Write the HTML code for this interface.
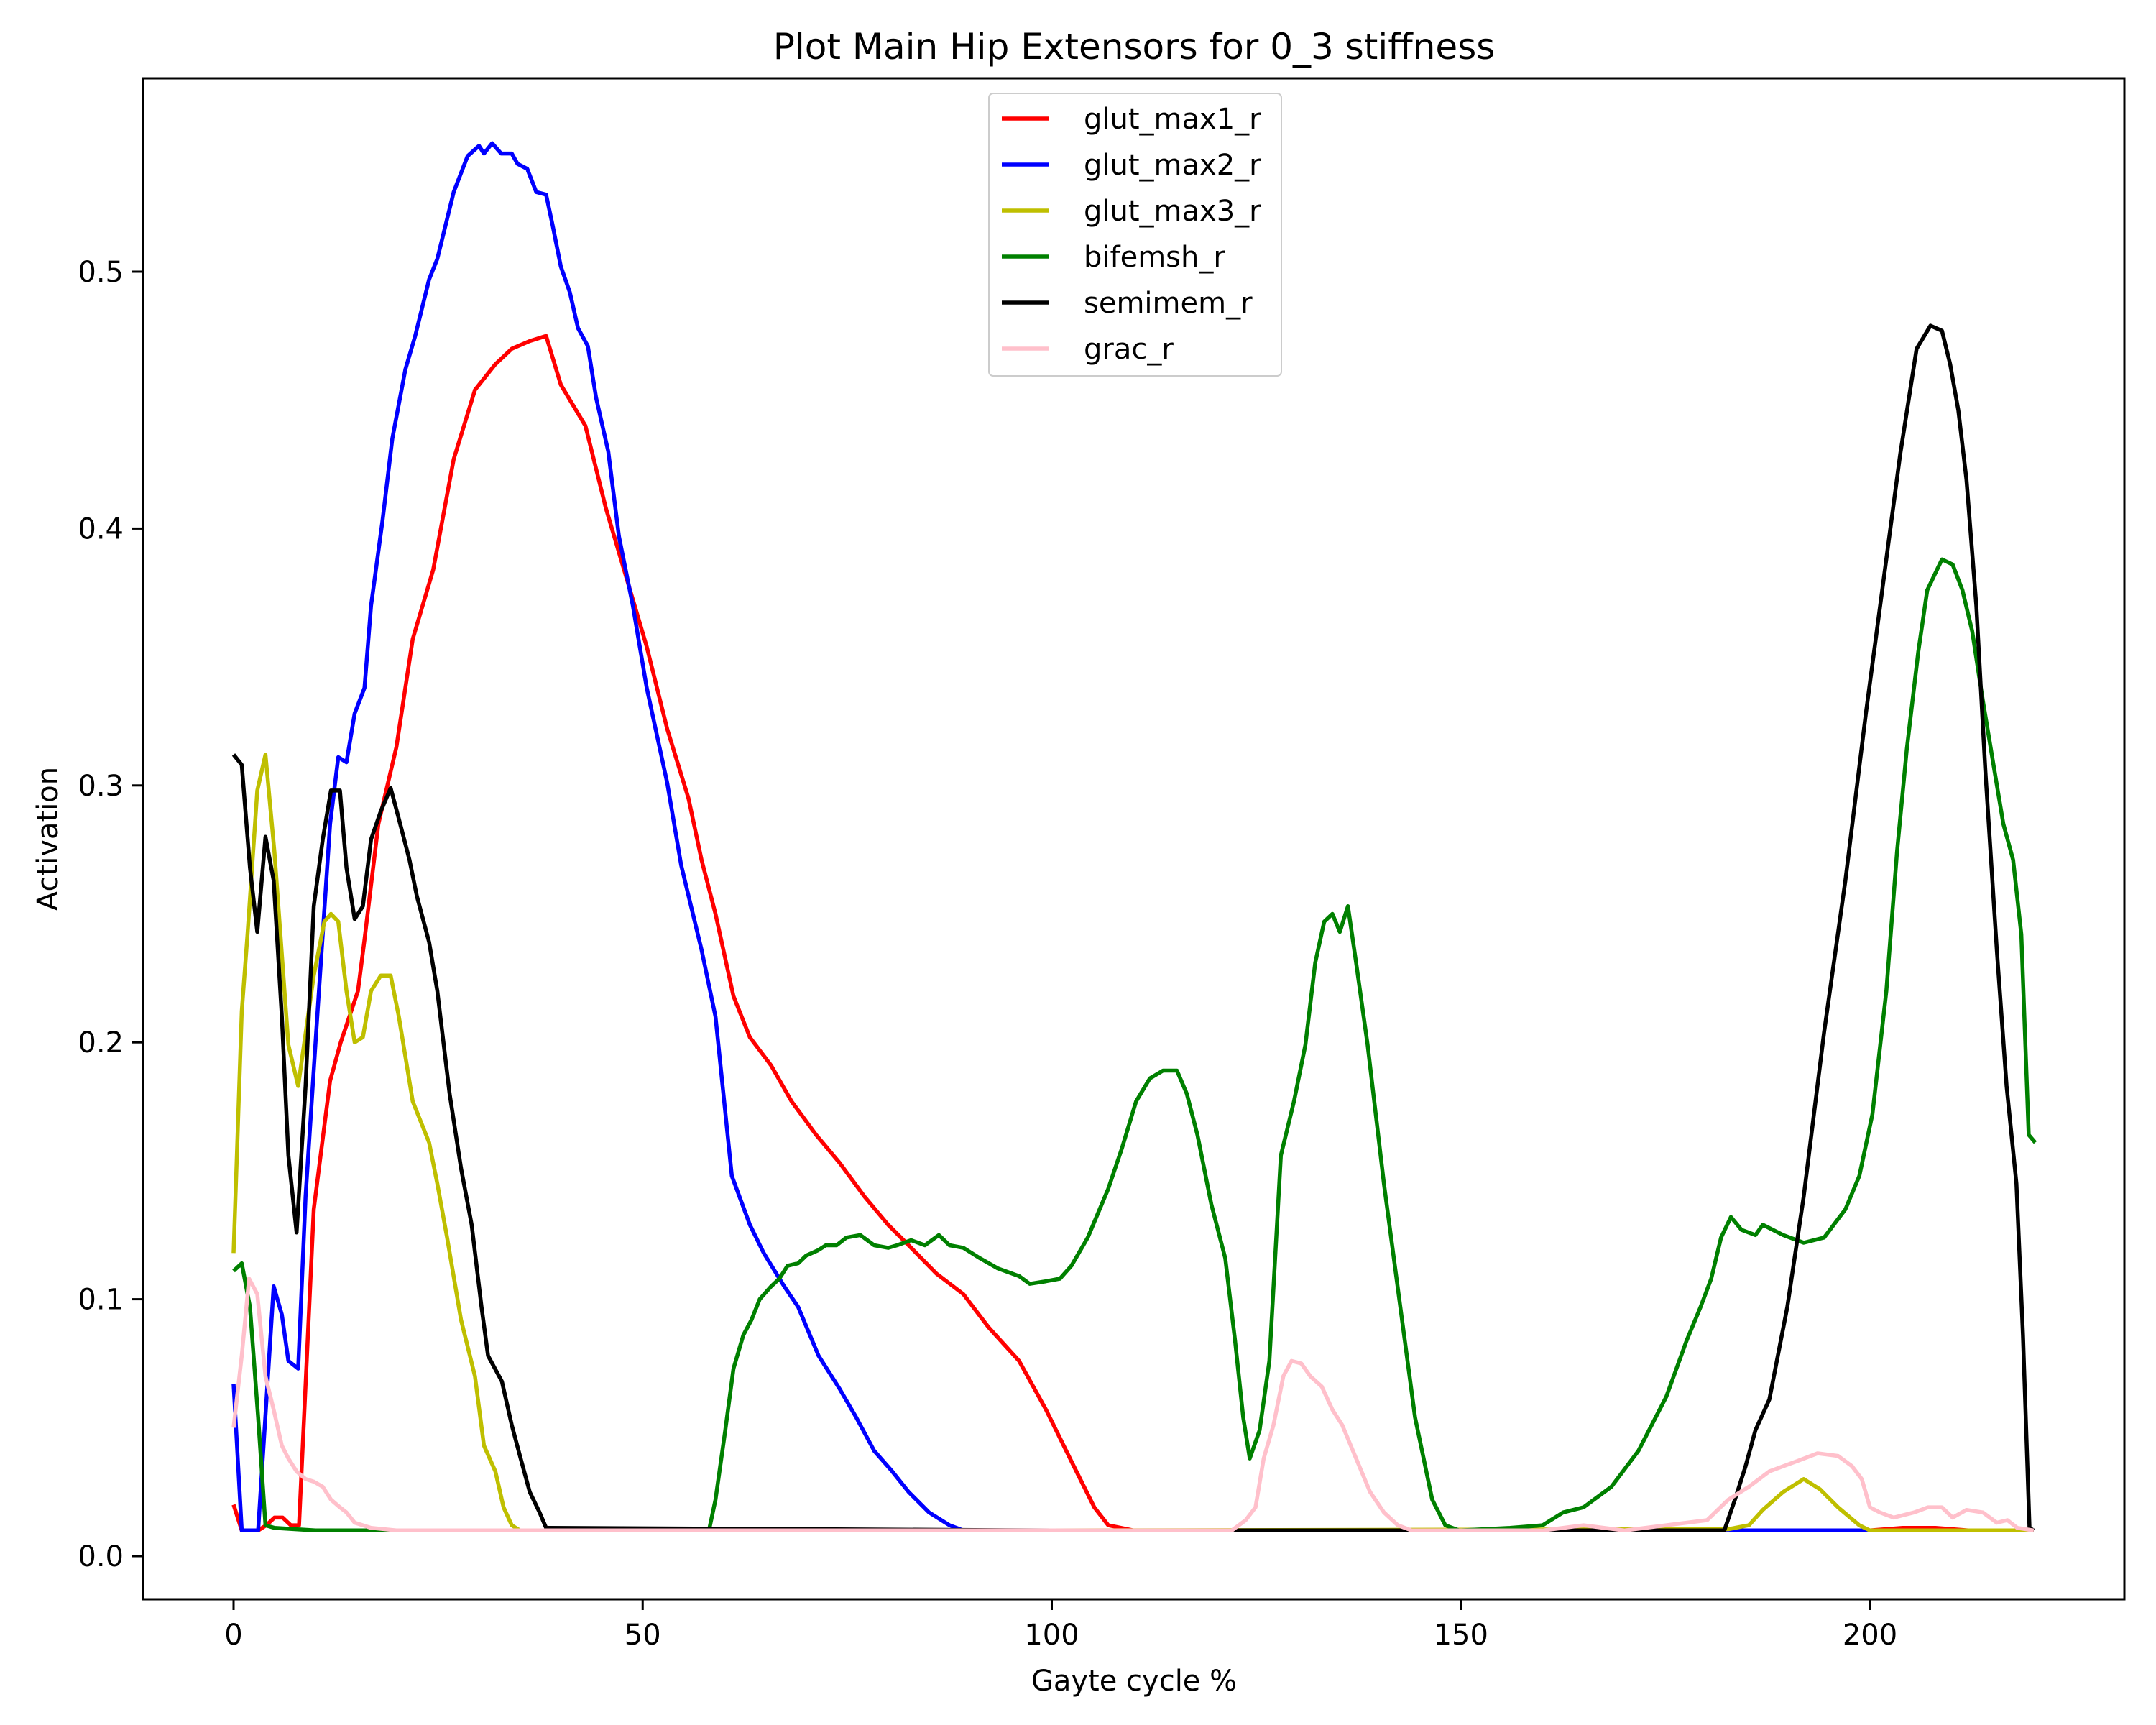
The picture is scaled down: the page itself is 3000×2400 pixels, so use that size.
<!DOCTYPE html>
<html><head><meta charset="utf-8"><style>
html,body{margin:0;padding:0;background:#fff;}
svg{display:block;font-family:"DejaVu Sans","Liberation Sans",sans-serif;}
</style></head><body>
<svg id="chart" width="3000" height="2400" viewBox="0 0 3000 2400" xmlns="http://www.w3.org/2000/svg">
<rect width="3000" height="2400" fill="#fff"/>
<text x="1578" y="82" font-size="50" text-anchor="middle">Plot Main Hip Extensors for 0_3 stiffness</text>
<g id="plot"></g>
<rect x="199.5" y="109" width="2756.5" height="2116" fill="none" stroke="#000" stroke-width="3"/>
<text x="1578" y="2352" font-size="40" text-anchor="middle">Gayte cycle %</text>
<text x="80" y="1167" font-size="40" text-anchor="middle" transform="rotate(-90 80 1167)">Activation</text>
<g id="legend"></g>
</svg>
<script>
const xTicks=[0,50,100,150,200];
const yTicks=[0.0,0.1,0.2,0.3,0.4,0.5];
const yTickLabels=["0.0","0.1","0.2","0.3","0.4","0.5"];
const seriesNames=["glut_max1_r","glut_max2_r","glut_max3_r","bifemsh_r","semimem_r","grac_r"];
const seriesColors=["#ff0000","#0000ff","#bfbf00","#008000","#000000","#ffc0cb"];
const redX=[0,1,3,4,5,6,7,8,9.8,11.8,13.1,15.2,16,17.7,19.9,21.9,24.4,26.9,29.5,32,34,36.2,38.2,40,43,45.5,48,50.5,53,55.6,57.2,58.9,61.1,63.1,65.7,68.2,71.2,74.1,77.1,80,82.5,85.9,89.2,92.3,96,99.3,102.7,105.2,106.9,110,150,200,204,208,212,216,220];
const redY=[0.02,0.01,0.01,0.012,0.015,0.015,0.012,0.012,0.135,0.185,0.2,0.22,0.24,0.285,0.315,0.357,0.384,0.427,0.454,0.464,0.47,0.473,0.475,0.456,0.44,0.408,0.381,0.354,0.322,0.295,0.271,0.25,0.218,0.202,0.191,0.177,0.164,0.153,0.14,0.129,0.121,0.11,0.102,0.089,0.076,0.057,0.035,0.019,0.012,0.01,0.01,0.01,0.011,0.011,0.01,0.01,0.01];
const blueX=[0,1,3,4.9,5.9,6.7,7.9,8.8,10.1,11.8,12.8,13.8,14.8,16,16.8,18.2,19.4,21,22.2,23.9,24.9,26.9,28.6,30,30.6,31.6,32.7,34,34.7,35.9,37,38.2,39,40,41.1,42.1,43.3,44.3,45.8,47.1,48.8,50.5,53,54.7,57.2,58.9,60.9,63.1,64.8,67.3,69,71.5,74.1,76.1,78.3,80.5,82.5,85,87.5,89.2,150,220];
const blueY=[0.067,0.01,0.01,0.105,0.094,0.076,0.073,0.14,0.204,0.285,0.311,0.309,0.328,0.338,0.37,0.403,0.435,0.462,0.475,0.497,0.505,0.531,0.545,0.549,0.546,0.55,0.546,0.546,0.542,0.54,0.531,0.53,0.518,0.502,0.492,0.478,0.471,0.451,0.43,0.397,0.37,0.338,0.301,0.269,0.236,0.21,0.148,0.129,0.118,0.105,0.097,0.078,0.065,0.054,0.041,0.033,0.025,0.017,0.012,0.01,0.01,0.01];
const yelX=[0,1,1.7,2.9,3.9,5,6.7,7.9,9.8,11.1,11.9,12.8,13.8,14.8,15.8,16.8,18,19.2,20.2,21.9,23.9,24.9,26.1,27.8,29.5,30.6,32,33,34,35,100,182.7,185.2,186.9,189.4,191.9,193.9,196.1,198.7,200,220];
const yelY=[0.118,0.212,0.242,0.298,0.312,0.274,0.199,0.183,0.226,0.247,0.25,0.247,0.22,0.2,0.202,0.22,0.226,0.226,0.21,0.177,0.161,0.145,0.124,0.092,0.07,0.043,0.033,0.019,0.012,0.01,0.01,0.0105,0.012,0.018,0.025,0.03,0.026,0.019,0.012,0.01,0.01];
const grnX=[0,1,2,3,3.9,5,10,58.1,58.9,60.1,61.1,62.3,63.3,64.3,65.7,66.7,67.7,69,70,71.4,72.4,73.7,74.9,76.6,78.3,80,81.1,82.8,84.5,86.2,87.5,89.2,91.2,93.4,96,97.3,99.3,101,102.4,104.4,106.9,108.6,110.3,112,113.6,115.3,116.5,117.8,119.5,121.2,122.4,123.4,124.2,125.4,126.6,128,129.6,131,132.2,133.3,134.3,135.2,136.2,137.2,138.6,140.6,142.6,144.4,146.5,148.1,149.8,156,160,162.5,165,168.4,171.7,175.1,177.6,179.3,180.6,181.8,183,184.3,186,186.9,189.4,191.9,194.4,197,198.7,200.3,202,203.3,204.5,205.9,207,207.9,208.8,210.1,211.3,212.5,213.8,215.2,216.3,217.5,218.5,219.4,220.2];
const grnY=[0.111,0.114,0.097,0.054,0.012,0.011,0.01,0.01,0.022,0.049,0.073,0.086,0.092,0.1,0.105,0.108,0.113,0.114,0.117,0.119,0.121,0.121,0.124,0.125,0.121,0.12,0.121,0.123,0.121,0.125,0.121,0.12,0.116,0.112,0.109,0.106,0.107,0.108,0.113,0.124,0.143,0.159,0.177,0.186,0.189,0.189,0.18,0.164,0.137,0.116,0.084,0.054,0.038,0.049,0.076,0.156,0.177,0.199,0.231,0.247,0.25,0.243,0.253,0.231,0.199,0.145,0.097,0.054,0.022,0.012,0.01,0.011,0.012,0.017,0.019,0.027,0.041,0.062,0.084,0.097,0.108,0.124,0.132,0.127,0.125,0.129,0.125,0.122,0.124,0.135,0.148,0.172,0.22,0.274,0.314,0.352,0.376,0.382,0.388,0.386,0.376,0.36,0.333,0.306,0.285,0.271,0.242,0.164,0.161];
const blkX=[0,1,2,2.9,3.9,4.9,5.9,6.7,7.7,8.8,9.8,10.9,11.9,13,13.8,14.8,15.8,16.8,18,19.2,20.2,21.5,22.4,23.9,24.9,26.4,27.8,29.1,30.3,31.1,32.8,34,35,36.2,37.4,38.2,100,182.2,183.5,184.8,186,187.7,189.9,191.9,194.4,197,199.5,201.7,203.7,205.7,207.4,208.8,209.8,210.8,211.8,213,214.1,215.5,216.7,217.9,218.7,219.5,220];
const blkY=[0.312,0.308,0.268,0.243,0.28,0.263,0.21,0.156,0.126,0.183,0.253,0.279,0.298,0.298,0.268,0.248,0.253,0.279,0.29,0.299,0.287,0.271,0.257,0.239,0.22,0.18,0.151,0.129,0.097,0.078,0.068,0.051,0.039,0.025,0.017,0.011,0.01,0.01,0.022,0.035,0.049,0.061,0.097,0.14,0.204,0.263,0.328,0.381,0.429,0.47,0.479,0.477,0.464,0.446,0.419,0.37,0.306,0.236,0.183,0.145,0.086,0.011,0.01];
const pnkX=[0,1,1.9,2.9,3.9,4.9,5.9,6.7,7.7,8.8,9.8,10.9,11.9,13,13.8,14.8,16.8,20,122,123.7,124.9,125.9,127.1,128.3,129.3,130.5,131.6,133,134.3,135.5,137.2,138.9,140.6,142.3,144,160,165,170,180.1,182.7,185.2,187.7,189.4,191.1,193.6,196.1,197.8,199,200,201.2,202.9,205.4,207.1,208.8,210.1,211.8,213.8,215.5,216.8,218,220];
const pnkY=[0.05,0.078,0.108,0.102,0.07,0.057,0.043,0.038,0.033,0.03,0.029,0.027,0.022,0.019,0.017,0.013,0.011,0.01,0.01,0.014,0.019,0.038,0.051,0.07,0.076,0.075,0.07,0.066,0.057,0.051,0.038,0.025,0.017,0.012,0.01,0.01,0.012,0.01,0.014,0.022,0.027,0.033,0.035,0.037,0.04,0.039,0.035,0.03,0.019,0.017,0.015,0.017,0.019,0.019,0.015,0.018,0.017,0.013,0.014,0.011,0.01];
const seriesX=[redX,blueX,yelX,grnX,blkX,pnkX];
const seriesY=[redY,blueY,yelY,grnY,blkY,pnkY];

const NS="http://www.w3.org/2000/svg";
function sx(v){return 325+v*11.385;}
function sy(v){return 2165-v*3574;}
const plot=document.getElementById('plot');
xTicks.forEach(t=>{
  const l=document.createElementNS(NS,'line');
  l.setAttribute('x1',sx(t));l.setAttribute('x2',sx(t));l.setAttribute('y1',2225);l.setAttribute('y2',2240);
  l.setAttribute('stroke','#000');l.setAttribute('stroke-width','3');
  
  
  plot.appendChild(l);
  const tx=document.createElementNS(NS,'text');
  tx.setAttribute('x',sx(t));tx.setAttribute('y',2288);tx.setAttribute('font-size','40');tx.setAttribute('text-anchor','middle');
  tx.textContent=String(t);
  
  
  plot.appendChild(tx);
});
yTicks.forEach((t,i)=>{
  const l=document.createElementNS(NS,'line');
  l.setAttribute('x1',184);l.setAttribute('x2',199.5);l.setAttribute('y1',sy(t));l.setAttribute('y2',sy(t));
  l.setAttribute('stroke','#000');l.setAttribute('stroke-width','3');
  
  
  plot.appendChild(l);
  const tx=document.createElementNS(NS,'text');
  tx.setAttribute('x',172);tx.setAttribute('y',sy(t)+14);tx.setAttribute('font-size','40');tx.setAttribute('text-anchor','end');
  tx.textContent=yTickLabels[i];
  
  
  plot.appendChild(tx);
});
seriesNames.forEach((n,i)=>{
  const p=document.createElementNS(NS,'polyline');
  p.setAttribute('points',seriesX[i].map((x,j)=>sx(x).toFixed(1)+','+sy(seriesY[i][j]).toFixed(1)).join(' '));
  p.setAttribute('fill','none');p.setAttribute('stroke',seriesColors[i]);p.setAttribute('stroke-width','5.5');p.setAttribute('stroke-linejoin','round');
  
  
  plot.appendChild(p);
});
const lg=document.getElementById('legend');
const box=document.createElementNS(NS,'rect');
box.setAttribute('x',1376);box.setAttribute('y',130);box.setAttribute('width',407);box.setAttribute('height',393);box.setAttribute('rx',6);
box.setAttribute('fill','#fff');box.setAttribute('fill-opacity','0.8');box.setAttribute('stroke','#ccc');box.setAttribute('stroke-width','2');


lg.appendChild(box);
seriesNames.forEach((n,i)=>{
  const y=165+i*64;
  const l=document.createElementNS(NS,'line');
  l.setAttribute('x1',1394);l.setAttribute('x2',1459);l.setAttribute('y1',y);l.setAttribute('y2',y);
  l.setAttribute('stroke',seriesColors[i]);l.setAttribute('stroke-width','5.5');
  
  
  lg.appendChild(l);
  const t=document.createElementNS(NS,'text');
  t.setAttribute('x',1508);t.setAttribute('y',y+14);t.setAttribute('font-size','40');
  t.textContent=n;
  
  
  lg.appendChild(t);
});
</script>
</body></html>
